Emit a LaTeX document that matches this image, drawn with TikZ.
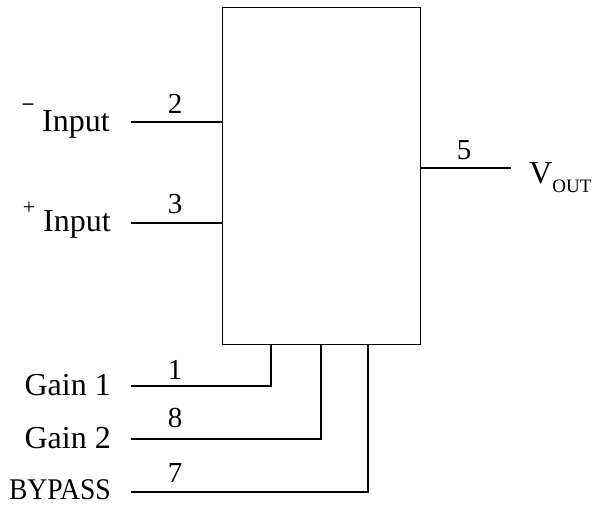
\documentclass[tikz,border=0pt]{standalone}
\usepackage{fontspec}
\setmainfont{Liberation Serif}
\begin{document}
\begin{tikzpicture}[x=1pt,y=-1pt,
  lbl/.style={font=\fontsize{32}{34}\selectfont, inner sep=0pt},
  num/.style={font=\fontsize{29}{32}\selectfont, inner sep=0pt, anchor=base},
  wire/.style={draw=black, line width=1.3pt}]
\useasboundingbox (0,0) rectangle (594,506);
\node[draw, line width=1.3pt, minimum width=198pt, minimum height=337pt, inner sep=0pt, anchor=north west] (chip) at (222,7) {};
% pin end coordinates
\coordinate (p2) at (131,122);
\coordinate (p3) at (131,223);
\coordinate (p5) at (511,168);
\coordinate (p1) at (131,386);
\coordinate (p8) at (131,439);
\coordinate (p7) at (131,492);
\path (chip.south west) ++(49,0) coordinate (c1) ++(50,0) coordinate (c8) ++(47,0) coordinate (c7);
% wires
\draw[wire] (p2) -- (p2 -| chip.west);
\draw[wire] (p3) -- (p3 -| chip.west);
\draw[wire] (p5) -- (p5 -| chip.east);
\draw[wire] (p1) -| (c1);
\draw[wire] (p8) -| (c8);
\draw[wire] (p7) -| (c7);
% pin numbers
\node[num] (n2) at (175,113) {2};
\node[num] (n3) at (175,213) {3};
\node[num] (n5) at (464,159) {5};
\node[num] (n1) at (175,379) {1};
\node[num] (n8) at (175,427) {8};
\node[num] (n7) at (175,482) {7};
% labels
\node[inner sep=0pt, font=\fontsize{21}{21}\selectfont\bfseries, anchor=base] (minus) at (28,109) {–};
\node[lbl, anchor=base west] (inm) at (42,131) {Input};
\node[inner sep=0pt, font=\fontsize{22}{22}\selectfont, anchor=base] (plus) at (29,214.5) {+};
\node[lbl, anchor=base west] (inp) at (43,231) {Input};
\node[lbl, anchor=base west] (vout) at (529,183) {V\raisebox{-9pt}{\fontsize{19}{19}\selectfont OUT}};
\node[lbl, anchor=base east] (g1) at (111,395) {Gain 1};
\node[lbl, anchor=base east] (g2) at (111,448) {Gain 2};
\node[lbl, anchor=base east, font=\fontsize{30}{32}\selectfont\addfontfeature{FakeStretch=0.92}] (bp) at (111,499) {BYPASS};
\end{tikzpicture}
\end{document}
